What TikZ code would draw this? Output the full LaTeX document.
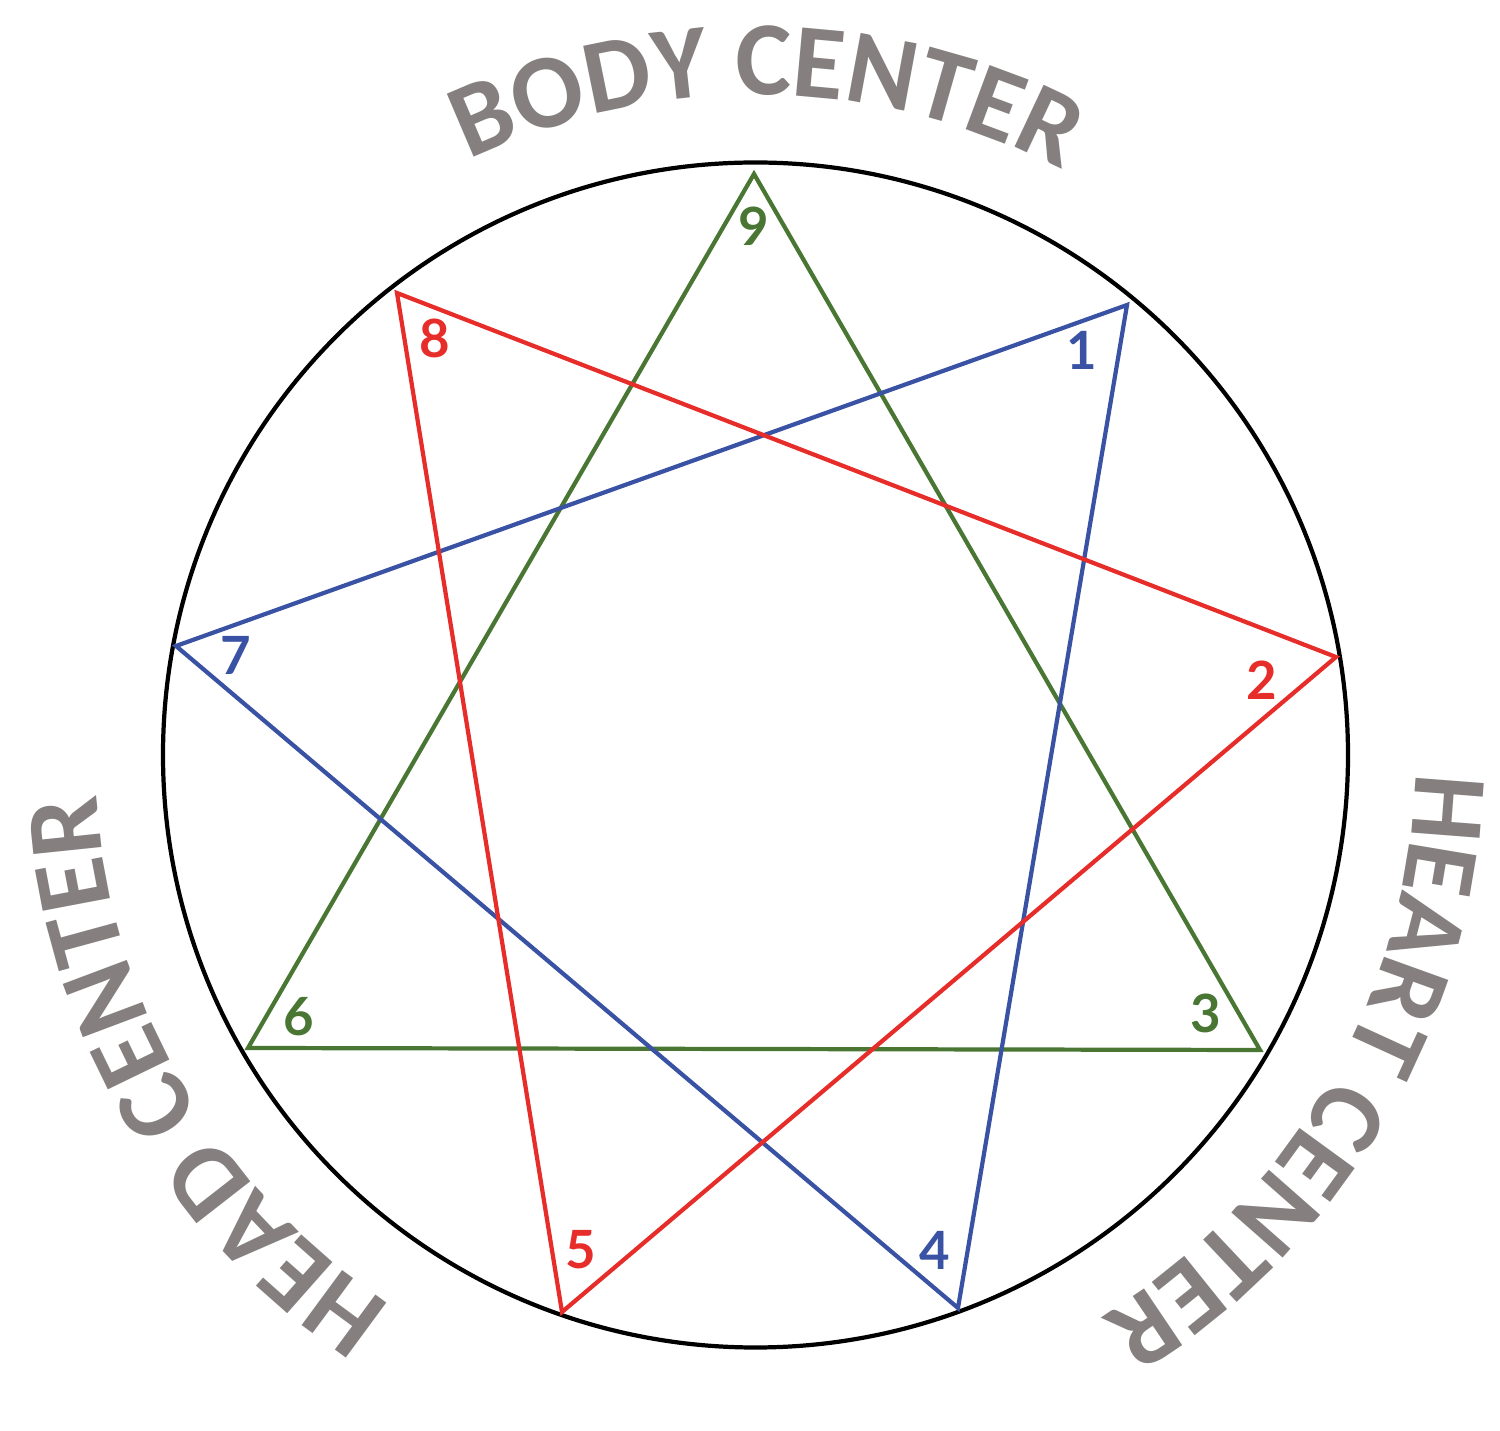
\documentclass[tikz,border=0pt]{standalone}
\usepackage{fontspec}
\setmainfont{Lato}
\newfontfamily\centerfont{Carlito}
\usetikzlibrary{calc,decorations.text}
\definecolor{bodygreen}{HTML}{4A7634}
\definecolor{heartred}{HTML}{E62D2A}
\definecolor{headblue}{HTML}{3A52A3}
\definecolor{centergray}{HTML}{857F7F}

\begin{document}
\begin{tikzpicture} [
      ring/.style = { draw=black, line width=1.2pt },
      side/.style = { line width=1.2pt, line join=miter },
      num/.style = { inner sep=0, font=\fontsize{15}{18}\selectfont\bfseries },
      centertext/.style = { decorate, decoration={text along path, text align=center,
        text color=centergray, text={|\centerfont\fontsize{30}{32}\selectfont\bfseries|#1}} }
      ]

      \useasboundingbox (0,0) rectangle (15,14.31);
      \coordinate (c) at (7.555,6.76);

      % points of the enneagram
      \foreach \n/\x/\y in {9/7.54/12.57, 1/11.27/11.26, 2/13.36/7.74, 3/12.60/3.81,
        4/9.58/1.23, 5/5.62/1.19, 6/2.48/3.83, 7/1.76/7.85, 8/3.97/11.38}
        \coordinate (v\n) at (\x,\y);

      \draw [ring] (c) circle [radius=5.925];

      \draw [side, bodygreen] (v9) -- (v3) -- (v6) -- cycle;
      \draw [side, headblue] (v1) -- (v4) -- (v7) -- cycle;
      \draw [side, heartred] (v8) -- (v2) -- (v5) -- cycle;

      % numbers
      \node [num, bodygreen] (l9) at (7.54,12.05) {9};
      \node [num, headblue] (l1) at (10.82,10.81) {1};
      \node [num, heartred] (l2) at (12.62,7.51) {2};
      \node [num, bodygreen] (l3) at (12.06,4.18) {3};
      \node [num, headblue] (l4) at (9.35,1.81) {4};
      \node [num, heartred] (l5) at (5.81,1.81) {5};
      \node [num, bodygreen] (l6) at (2.99,4.14) {6};
      \node [num, headblue] (l7) at (2.36,7.76) {7};
      \node [num, heartred] (l8) at (4.35,10.93) {8};

      % centers
      \path [centertext={BODY CENTER}] ($(c)+(149:6.6)$) arc [start angle=149, end angle=29, radius=6.6];
      \path [centertext={HEART CENTER}] ($(c)+(30:6.6)$) arc [start angle=30, end angle=-90, radius=6.6];
      \path [centertext={HEAD CENTER}] ($(c)+(-90:6.6)$) arc [start angle=-90, end angle=-210, radius=6.6];
\end{tikzpicture}
\end{document}
